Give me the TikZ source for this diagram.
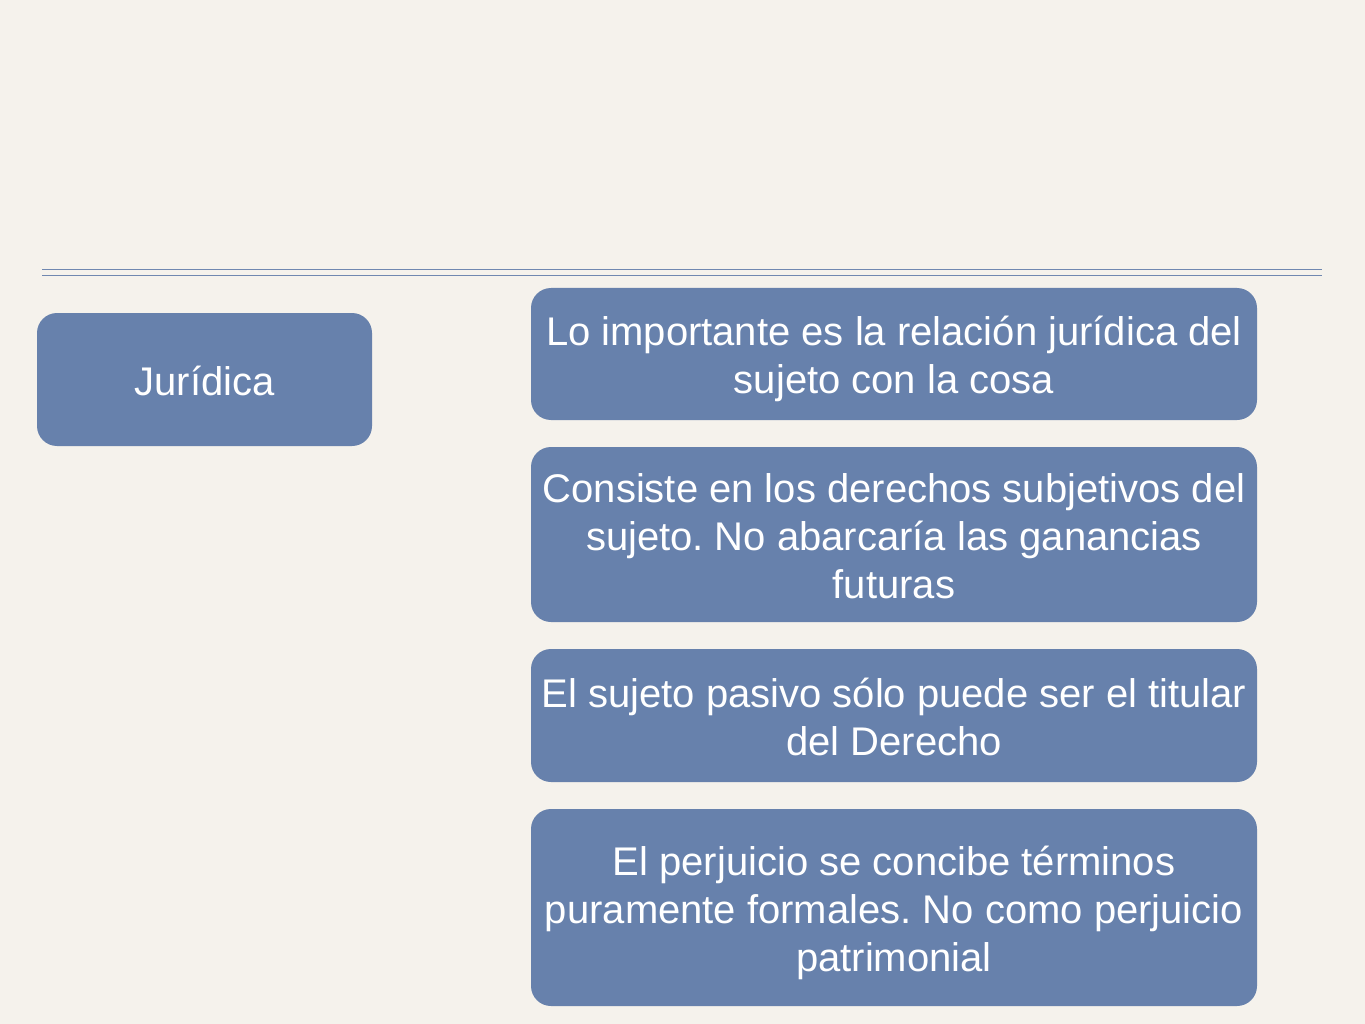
\documentclass[tikz,border=0pt]{standalone}
\usepackage{fontspec}
\setmainfont{Liberation Sans}
\usepackage{tikz}

\definecolor{paper}{HTML}{F5F2EC}
\definecolor{boxblue}{HTML}{6781AC}
\definecolor{rule}{HTML}{7088B0}

\newcommand{\lineup}{\rule{0pt}{43pt}}

\begin{document}
\begin{tikzpicture}[x=1pt, y=-1pt,
    card/.style={fill=boxblue, rounded corners=20pt, text=white, align=center,
      inner sep=0pt, font=\fontsize{40}{48}\selectfont\frenchspacing,
      execute at end node={\rule[-12pt]{0pt}{12pt}}},
    wide/.style={card, minimum width=726pt},
    rulestroke/.style={rule, line width=1pt}]
    \fill[paper] (0, 0) rectangle (1365, 1024);
    % double rule under the title area
    \coordinate (ruleAL) at (42, 269.5);
    \coordinate (ruleAR) at (1322, 269.5);
    \coordinate (ruleBL) at (42, 275.5);
    \coordinate (ruleBR) at (1322, 275.5);
    \draw[rulestroke] (ruleAL) -- (ruleAR);
    \draw[rulestroke] (ruleBL) -- (ruleBR);
    % left heading
    \node[card, minimum width=335pt, minimum height=133pt] (juridica) at (204.5, 379.5) {\lineup Jurídica};
    % right column
    \node[wide, minimum height=132pt] (relacion) at (894, 354) {\lineup Lo importante es la relación jurídica del\\sujeto con la cosa};
    \node[wide, minimum height=175pt] (derechos) at (894, 534.5) {\lineup Consiste en los derechos subjetivos del\\sujeto. No abarcaría las ganancias\\futuras};
    \node[wide, minimum height=133pt] (pasivo) at (894, 715.5) {\lineup El sujeto pasivo sólo puede ser el titular\\del Derecho};
    \node[wide, minimum height=197pt] (perjuicio) at (894, 907.5) {\lineup El perjuicio se concibe términos\\puramente formales. No como perjuicio\\patrimonial};
\end{tikzpicture}
\end{document}
